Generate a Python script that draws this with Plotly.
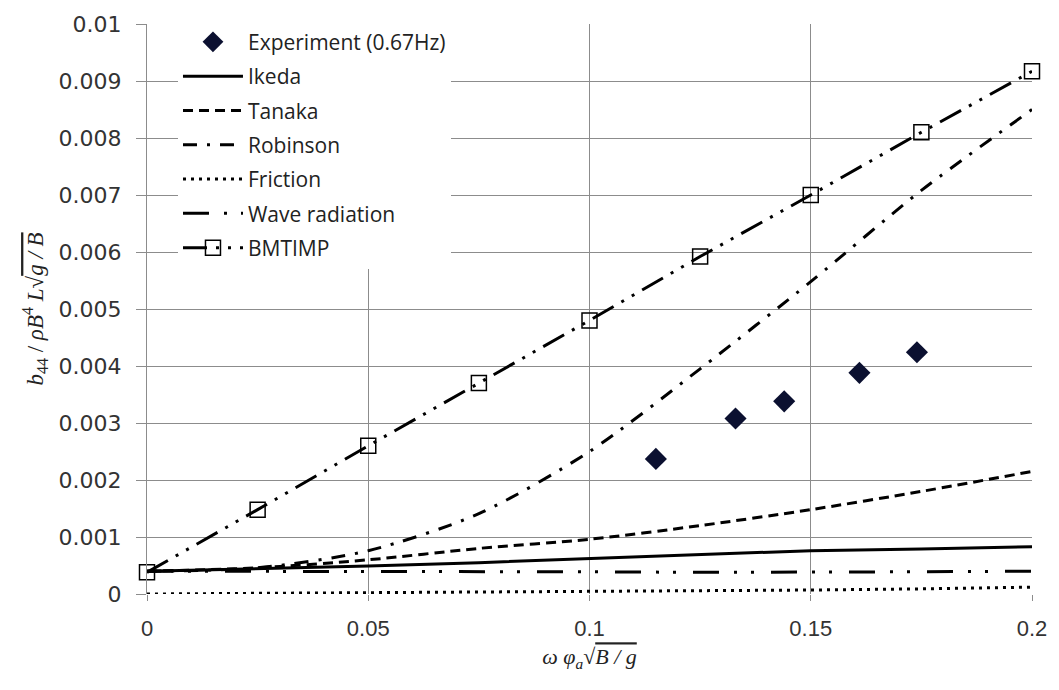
import plotly.graph_objects as go

x_grid = [0, 0.025, 0.05, 0.075, 0.1, 0.125, 0.15, 0.175, 0.2]

exp_x = [0.115, 0.133, 0.144, 0.161, 0.174]
exp_y = [0.00237, 0.00308, 0.00338, 0.00388, 0.00424]

ikeda = [0.00040, 0.00044, 0.00049, 0.00055, 0.00062, 0.00068, 0.00076, 0.00079, 0.00083]
tanaka = [0.00040, 0.00046, 0.00060, 0.00080, 0.00096, 0.00120, 0.00148, 0.00180, 0.00215]
robinson = [0.00040, 0.00046, 0.00076, 0.00141, 0.00250, 0.00395, 0.00548, 0.00708, 0.00850]
friction = [0.0, 0.00001, 0.00002, 0.00003, 0.00004, 0.00005, 0.00007, 0.00009, 0.00012]
wave = [0.00040, 0.00040, 0.00039, 0.00039, 0.00039, 0.00038, 0.00038, 0.00039, 0.00040]
bmtimp = [0.00038, 0.00148, 0.00260, 0.00370, 0.00480, 0.00592, 0.00700, 0.00810, 0.00917]

x_ticks = [0, 0.05, 0.1, 0.15, 0.2]
x_ticktext = ["0", "0.05", "0.1", "0.15", "0.2"]
y_ticks = [0, 0.001, 0.002, 0.003, 0.004, 0.005, 0.006, 0.007, 0.008, 0.009, 0.01]
y_ticktext = ["0", "0.001", "0.002", "0.003", "0.004", "0.005", "0.006", "0.007", "0.008", "0.009", "0.01"]

fig = go.Figure()

fig.add_trace(go.Scatter(x=exp_x, y=exp_y, mode="markers", name="Experiment (0.67Hz)",
                         legendgroup="g1",
                         marker=dict(symbol="diamond", size=17, color="#0b1030")))
fig.add_trace(go.Scatter(x=x_grid, y=ikeda, mode="lines", name="Ikeda", legendgroup="g2",
                         line=dict(color="black", width=3)))
fig.add_trace(go.Scatter(x=x_grid, y=tanaka, mode="lines", name="Tanaka", legendgroup="g3",
                         line=dict(color="black", width=3, dash="10px,6px", shape="spline", smoothing=0.8)))
fig.add_trace(go.Scatter(x=x_grid, y=robinson, mode="lines", name="Robinson", legendgroup="g4",
                         line=dict(color="black", width=3, dash="14px,10px,3px,10px", shape="spline", smoothing=0.8)))
fig.add_trace(go.Scatter(x=x_grid, y=friction, mode="lines", name="Friction", legendgroup="g5",
                         line=dict(color="black", width=3, dash="3px,5px")))
fig.add_trace(go.Scatter(x=x_grid, y=wave, mode="lines", name="Wave radiation", legendgroup="g6",
                         line=dict(color="black", width=3, dash="26px,15px,3px,14px,3px,17px")))
fig.add_trace(go.Scatter(x=x_grid, y=bmtimp, mode="lines+markers", name="BMTIMP", legendgroup="g7",
                         line=dict(color="black", width=3, dash="24px,9px,3px,9px,3px,9px"),
                         marker=dict(symbol="square-open", size=15, color="black",
                                     line=dict(width=1.5, color="black")),
                         cliponaxis=False))

ytitle = ("<i>b</i><sub>44</sub> / <i>ρB</i><sup>4</sup> <i>L</i>√"
          "<span style='text-decoration:overline'><i>g / B</i></span>")
xtitle = ("<i>ω φ</i><sub><i>a</i></sub>√"
          "<span style='text-decoration:overline'><i>B / g</i></span>")

fig.update_layout(
    width=1059, height=690,
    margin=dict(l=147, r=27, t=18, b=96),
    paper_bgcolor="white", plot_bgcolor="white",
    showlegend=True,
    legend=dict(x=0.035, y=1.004, xanchor="left", yanchor="top",
                bgcolor="white", borderwidth=0, tracegroupgap=4,
                itemwidth=60,
                font=dict(family="Open Sans", size=21, color="#222")),
    xaxis=dict(range=[0, 0.2], tickvals=x_ticks, ticktext=x_ticktext,
               showgrid=True, gridcolor="#8c8c8c", gridwidth=1,
               showline=False, zeroline=False,
               ticks="outside", ticklen=6, tickcolor="#8c8c8c",
               ticklabelstandoff=9,
               tickfont=dict(family="Liberation Sans", size=22, color="#333"),
               title=dict(text=xtitle, standoff=8,
                          font=dict(family="Liberation Serif", size=22, color="#222"))),
    yaxis=dict(range=[0, 0.01], tickvals=y_ticks, ticktext=y_ticktext,
               showgrid=True, gridcolor="#8c8c8c", gridwidth=1,
               showline=True, linecolor="#8c8c8c", zeroline=False,
               ticks="outside", ticklen=10, tickcolor="#8c8c8c",
               ticklabelstandoff=10,
               tickfont=dict(family="DejaVu Sans", size=22, color="#333"),
               title=dict(text=ytitle, standoff=8,
                          font=dict(family="Liberation Serif", size=23, color="#222"))),
)

fig.write_html("out.html")
